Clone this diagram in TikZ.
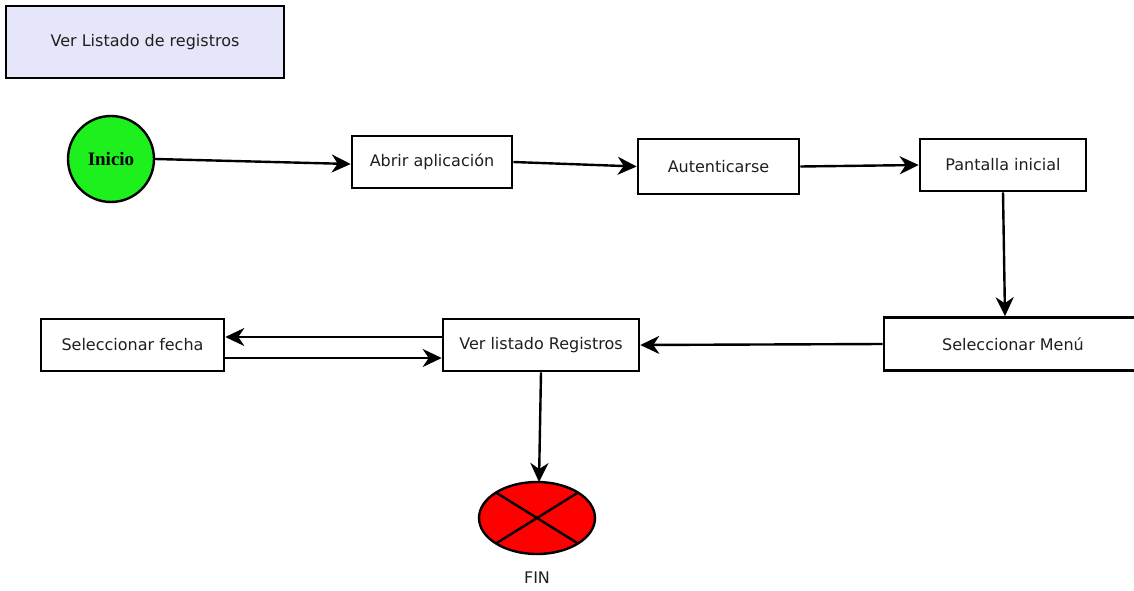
\documentclass[tikz,border=0pt]{standalone}
\usepackage{fontspec}
\setmainfont{DejaVu Sans}
\newfontfamily\inicioface{Liberation Serif}
\usetikzlibrary{arrows.meta,shapes.geometric}
\definecolor{titlefill}{HTML}{E6E6FA}
\definecolor{startgreen}{HTML}{1EF01E}
\definecolor{endred}{HTML}{FF0000}

\begin{document}
\begin{tikzpicture}[x=1pt,y=-1pt,
  txt/.style={font=\fontsize{16}{19}\selectfont, text=black!88},
  stepbox/.style={draw=black, line width=2.6pt, fill=white, inner sep=0pt, txt},
  flow/.style={line width=2.4pt, -{Stealth[length=19pt,width=18pt,inset=6pt]}}]

\useasboundingbox (0,0) rectangle (1134,591);

% header
\node[stepbox, fill=titlefill, minimum width=278pt, minimum height=72pt] (title) at (145,42) {Ver Listado de registros};

% start and steps
\node[circle, draw=black, line width=2.4pt, fill=startgreen, minimum size=86pt, inner sep=0pt,
      font=\inicioface\bfseries\fontsize{19}{22}\selectfont] (inicio) at (111,159) {Inicio};
\node[stepbox, minimum width=160pt, minimum height=52pt] (abrir) at (432,162) {Abrir aplicación};
\node[stepbox, minimum width=161pt, minimum height=55pt] (aut) at (718.5,166.5) {Autenticarse};
\node[stepbox, minimum width=166pt, minimum height=52pt] (pant) at (1003,165) {Pantalla inicial};
\node[stepbox, minimum width=258pt, minimum height=53pt] (menu) at (1013,344) {Seleccionar Menú};
\node[stepbox, minimum width=196pt, minimum height=52pt] (ver) at (541,345) {Ver listado Registros};
\node[stepbox, minimum width=183pt, minimum height=52pt] (fecha) at (132.5,345) {Seleccionar fecha};

% end
\node[ellipse, draw=black, line width=2.4pt, fill=endred, minimum width=116pt, minimum height=72pt, inner sep=0pt, outer sep=0pt] (fin) at (537,518) {};
\draw[line width=2.4pt] (fin.north west) -- (fin.south east);
\draw[line width=2.4pt] (fin.north east) -- (fin.south west);
\node[txt] (finlabel) at (537,578) {FIN};

% connectors
\draw[flow] (inicio.east) -- ([yshift=-2pt]abrir.west);
\draw[flow] (abrir.east) -- (aut.west);
\draw[flow] (aut.east) -- (pant.west);
\draw[flow] (pant.south) -- ([xshift=-8pt]menu.north);
\draw[flow] (menu.west) -- (ver.east);
\draw[flow] ([yshift=8pt]ver.west) -- ([yshift=8pt]fecha.east);
\draw[flow] ([yshift=-13pt]fecha.east) -- ([yshift=-13pt]ver.west);
\draw[flow] (ver.south) -- ([xshift=2pt]fin.north);
\end{tikzpicture}
\end{document}
